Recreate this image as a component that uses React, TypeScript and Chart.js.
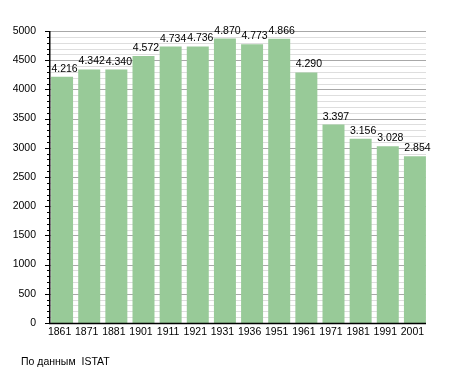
import React, { useEffect, useRef } from "react";
import { Chart, registerables } from "chart.js";

Chart.register(...registerables);

const years = ["1861", "1871", "1881", "1901", "1911", "1921", "1931", "1936", "1951", "1961", "1971", "1981", "1991", "2001"];
const population = [4216, 4342, 4340, 4572, 4734, 4736, 4870, 4773, 4866, 4290, 3397, 3156, 3028, 2854];
const yMax = 5000;
const majorStep = 500;
const minorStep = 100;
const sourceText = "По данным  ISTAT";

const FONT = "'Liberation Sans', Arial, sans-serif";

function fmt(v: number): string {
  const s = String(v);
  return s.length > 3 ? s.slice(0, s.length - 3) + "." + s.slice(s.length - 3) : s;
}

const gridPlugin = {
  id: "customGrid",
  beforeDatasetsDraw(chart: any) {
    const { ctx } = chart;
    const y = chart.scales.y;
    const left = 50;
    const right = 426;
    ctx.save();
    for (let v = 0; v <= yMax; v += minorStep) {
      const py = Math.round(y.getPixelForValue(v)) + 0.5;
      const major = v % majorStep === 0;
      ctx.strokeStyle = major ? "#a8a8a8" : "#dedede";
      ctx.lineWidth = 1;
      ctx.beginPath();
      ctx.moveTo(left, py);
      ctx.lineTo(right, py);
      ctx.stroke();
      ctx.strokeStyle = "#000";
      ctx.beginPath();
      ctx.moveTo(left - (major ? 5 : 3), py);
      ctx.lineTo(left, py);
      ctx.stroke();
    }
    ctx.restore();
  },
  afterDatasetsDraw(chart: any) {
    const { ctx } = chart;
    const y = chart.scales.y;
    const left = 50;
    const right = 426;
    const y0 = Math.round(y.getPixelForValue(0)) + 0.5;
    const yTop = Math.round(y.getPixelForValue(yMax));
    ctx.save();
    ctx.strokeStyle = "#000";
    ctx.lineWidth = 1.5;
    ctx.beginPath();
    ctx.moveTo(left - 0.25, yTop);
    ctx.lineTo(left - 0.25, y0);
    ctx.lineTo(right, y0);
    ctx.stroke();
    const meta = chart.getDatasetMeta(0);
    ctx.fillStyle = "#000";
    ctx.font = `10.5px ${FONT}`;
    ctx.textAlign = "center";
    ctx.textBaseline = "alphabetic";
    meta.data.forEach((bar: any, i: number) => {
      ctx.fillText(fmt(population[i]), bar.x + 2.5, bar.y - 5);
    });
    ctx.restore();
  },
};

export default function App() {
  const ref = useRef<HTMLCanvasElement>(null);
  useEffect(() => {
    if (!ref.current) return;
    const chart = new Chart(ref.current, {
      type: "bar",
      data: {
        labels: years,
        datasets: [
          {
            data: population,
            backgroundColor: "#98ca98",
            borderWidth: 0,
            barPercentage: 0.81,
            categoryPercentage: 1,
          },
        ],
      },
      options: {
        animation: false,
        responsive: false,
        maintainAspectRatio: false,
        layout: { padding: { left: 0, right: 26.5, top: 31, bottom: 0 } },
        plugins: { legend: { display: false }, tooltip: { enabled: false } },
        scales: {
          x: {
            offset: true,
            grid: { display: false, drawTicks: false },
            border: { display: false },
            ticks: {
              color: "#000",
              font: { size: 10.5, family: FONT },
              padding: 3,
              maxRotation: 0,
              autoSkip: false,
              labelOffset: -2.5,
            },
            afterFit(scale: any) {
              scale.height = 50;
            },
          },
          y: {
            min: 0,
            max: yMax,
            grid: { display: false, drawTicks: false },
            border: { display: false },
            ticks: {
              stepSize: majorStep,
              color: "#000",
              font: { size: 10.5, family: FONT },
              padding: 12.5,
              callback: (v: any) => String(v),
            },
            afterFit(scale: any) {
              scale.width = 48.5;
            },
          },
        },
      },
      plugins: [gridPlugin],
    });
    return () => chart.destroy();
  }, []);
  return (
    <div style={{ position: "absolute", left: 0, top: 0, width: 455, height: 373, background: "#fff" }}>
      <canvas ref={ref} width={455} height={373} style={{ position: "absolute", left: 0, top: 0 }} />
      <div
        style={{
          position: "absolute",
          left: 21,
          top: 355,
          fontFamily: FONT,
          fontSize: 10.5,
          whiteSpace: "pre",
          color: "#000",
        }}
      >
        {sourceText}
      </div>
    </div>
  );
}
